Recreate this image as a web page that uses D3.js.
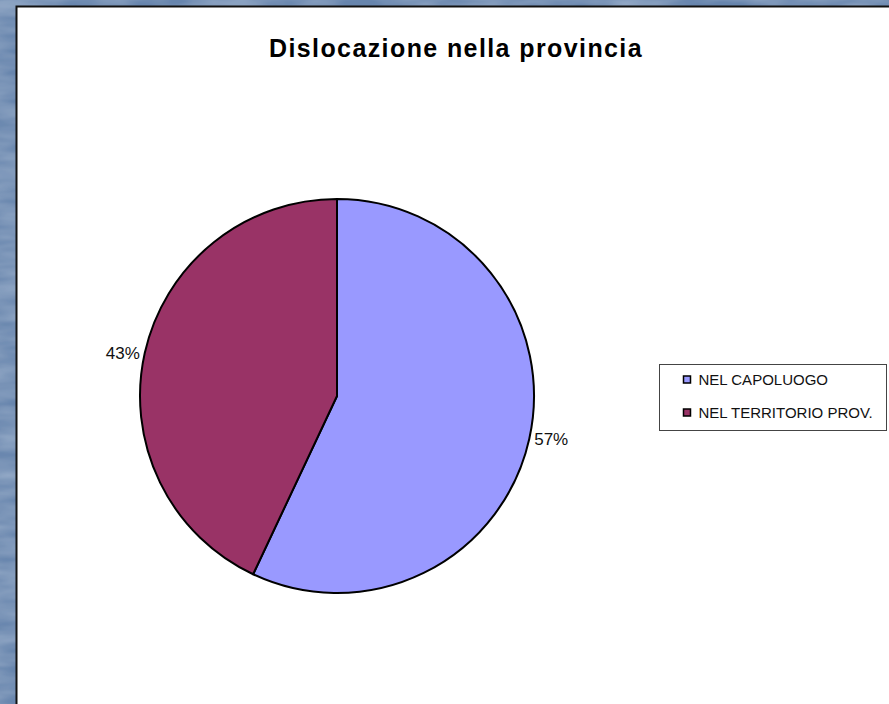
<!DOCTYPE html>
<html>
<head>
<meta charset="utf-8">
<script src="https://cdnjs.cloudflare.com/ajax/libs/d3/7.8.5/d3.min.js"></script>
<style>
  html, body { margin: 0; padding: 0; overflow: hidden; }
  svg { display: block; }
</style>
</head>
<body>
<svg id="chart" width="889" height="704"></svg>
<script>
const categories = ['NEL CAPOLUOGO', 'NEL TERRITORIO PROV.'];
const values = [57, 43];
const labels = ['57%', '43%'];
const colors = ['#9999FF', '#993366'];
const title = 'Dislocazione nella provincia';

const width = 889, height = 704;
const svg = d3.select('#chart');

// sfondo blu con texture
const defs = svg.append('defs');
const filt = defs.append('filter').attr('id', 'tex').attr('x', 0).attr('y', 0).attr('width', '100%').attr('height', '100%');
filt.append('feTurbulence').attr('type', 'fractalNoise').attr('baseFrequency', '0.015 0.06').attr('numOctaves', 3).attr('seed', 4).attr('result', 'n');
filt.append('feColorMatrix').attr('in', 'n').attr('type', 'matrix')
  .attr('values', '0 0 0 0 0.45  0 0 0 0 0.56  0 0 0 0 0.72  1.1 0 0 0 -0.3').attr('result', 'c');
filt.append('feComposite').attr('in', 'c').attr('in2', 'SourceGraphic').attr('operator', 'over');

svg.append('rect').attr('width', width).attr('height', height).attr('fill', '#56769f');
svg.append('rect').attr('width', width).attr('height', height).attr('fill', '#6a88b0').attr('filter', 'url(#tex)').attr('opacity', 0.85);

// area del grafico
svg.append('rect')
  .attr('x', 16.5).attr('y', 6.5)
  .attr('width', width).attr('height', height)
  .attr('fill', '#ffffff').attr('stroke', '#111').attr('stroke-width', 2);

svg.append('text')
  .attr('x', 456).attr('y', 57)
  .attr('text-anchor', 'middle')
  .attr('font-family', 'Liberation Sans, Arial, sans-serif')
  .attr('font-weight', 'bold')
  .attr('font-size', 25)
  .attr('letter-spacing', 1.4)
  .text(title);

// torta
const cx = 337, cy = 396, r = 197;
const pie = d3.pie().sort(null).value(d => d)(values);
const arc = d3.arc().innerRadius(0).outerRadius(r);
const g = svg.append('g').attr('transform', `translate(${cx},${cy})`);

g.selectAll('path')
  .data(pie)
  .enter()
  .append('path')
  .attr('d', arc)
  .attr('fill', (d, i) => colors[i])
  .attr('stroke', '#000')
  .attr('stroke-width', 2)
  .attr('stroke-linejoin', 'round');

g.selectAll('text.lbl')
  .data(pie)
  .enter()
  .append('text')
  .attr('class', 'lbl')
  .each(function (d, i) {
    const a = (d.startAngle + d.endAngle) / 2;
    const right = Math.sin(a) >= 0;
    const x = (r + 2) * Math.sin(a) + (right ? 3 : -3);
    const y = -(r + 2) * Math.cos(a);
    d3.select(this)
      .attr('x', x).attr('y', y)
      .attr('dy', '0.35em')
      .attr('text-anchor', right ? 'start' : 'end')
      .attr('font-family', 'Liberation Sans, Arial, sans-serif')
      .attr('font-size', 17)
      .attr('fill', '#111')
      .text(labels[i]);
  });

// legenda
const legend = svg.append('g').attr('transform', 'translate(659.5,364.5)');
legend.append('rect')
  .attr('width', 227).attr('height', 66)
  .attr('fill', '#fff').attr('stroke', '#444').attr('stroke-width', 1);

const items = legend.selectAll('g.item')
  .data(categories)
  .enter()
  .append('g')
  .attr('class', 'item')
  .attr('transform', (d, i) => `translate(0,${15 + i * 33})`);

items.append('rect')
  .attr('x', 24).attr('y', -3.5)
  .attr('width', 7).attr('height', 7)
  .attr('fill', (d, i) => colors[i])
  .attr('stroke', '#000').attr('stroke-width', 1.5);

items.append('text')
  .attr('x', 39).attr('y', 0)
  .attr('dy', '0.36em')
  .attr('font-family', 'Liberation Sans, Arial, sans-serif')
  .attr('font-size', 15)
  .attr('fill', '#111')
  .text(d => d);
</script>
</body>
</html>
